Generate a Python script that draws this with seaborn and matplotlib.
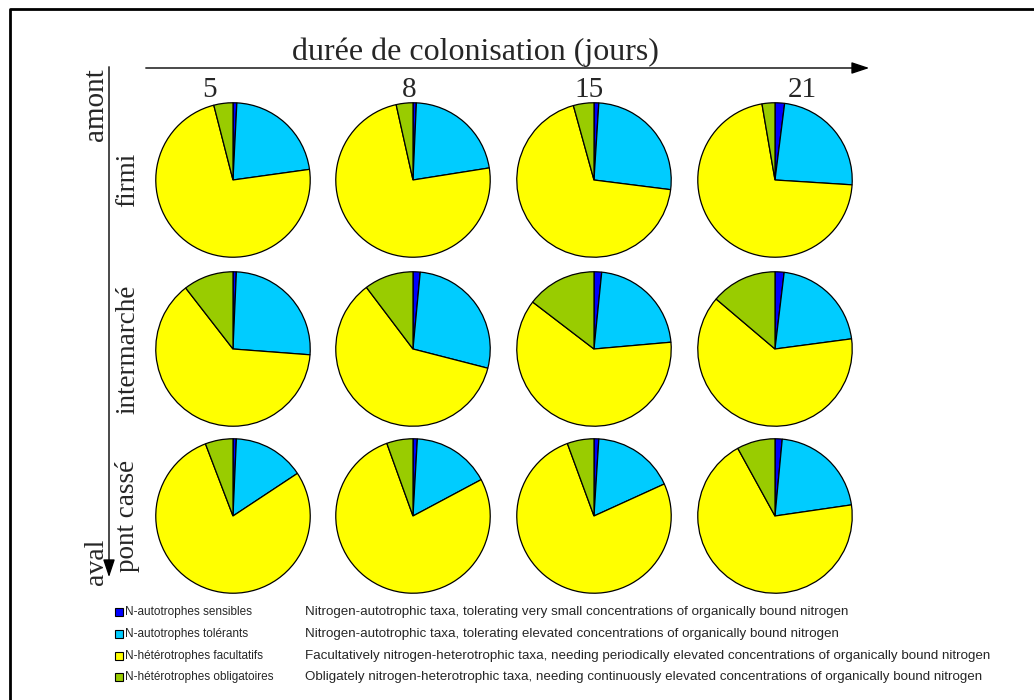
import matplotlib
matplotlib.use("Agg")
import matplotlib.pyplot as plt
from matplotlib.patches import Rectangle
import seaborn as sns

# === Data ===
sites = ["firmi", "intermarché", "pont cassé"]
days = ["5", "8", "15", "21"]
groups = ["N-autotrophes sensibles", "N-autotrophes tolérants",
          "N-hétérotrophes facultatifs", "N-hétérotrophes obligatoires"]
descriptions = [
    "Nitrogen-autotrophic taxa, tolerating very small concentrations of organically bound nitrogen",
    "Nitrogen-autotrophic taxa, tolerating elevated concentrations of organically bound nitrogen",
    "Facultatively nitrogen-heterotrophic taxa, needing periodically elevated concentrations of organically bound nitrogen",
    "Obligately nitrogen-heterotrophic taxa, needing continuously elevated concentrations of organically bound nitrogen",
]
colors = ["#0000FF", "#00CCFF", "#FFFF00", "#99CC00"]

# percentages per site (rows) and day (columns): sensibles, tolérants, facultatifs, obligatoires
firmi = [[0.8, 22.0, 73.2, 4.0], [0.7, 21.8, 74.0, 3.5], [1.0, 26.0, 68.7, 4.3], [2.0, 24.0, 71.3, 2.7]]
intermarche = [[0.7, 25.5, 63.3, 10.5], [1.5, 27.5, 60.7, 10.3], [1.6, 22.0, 61.8, 14.6], [1.9, 21.0, 63.3, 13.8]]
pont_casse = [[0.7, 15.0, 78.5, 5.8], [0.9, 16.3, 77.3, 5.5], [1.0, 17.2, 76.2, 5.6], [1.5, 21.2, 69.3, 8.0]]
data = [firmi, intermarche, pont_casse]

sns.set_theme(style="white")
plt.rcParams["font.family"] = ["Liberation Serif", "DejaVu Serif"]

W, H = 1034, 700
fig = plt.figure(figsize=(W / 100, H / 100), dpi=100)

# overlay axes in pixel coordinates for annotations
bg = fig.add_axes([0, 0, 1, 1])
bg.set_xlim(0, W)
bg.set_ylim(H, 0)
bg.axis("off")

# frame
bg.plot([9.5, 9.5, W], [H, 8.5, 8.5], color="black", lw=2)

# === Pies ===
col_x = [233, 413, 594, 775]
row_y = [180, 349, 516]
r = 78
for i, site_vals in enumerate(data):
    for j, vals in enumerate(site_vals):
        cx, cy = col_x[j], row_y[i]
        ax = fig.add_axes([(cx - r) / W, 1 - (cy + r) / H, 2 * r / W, 2 * r / H])
        ax.pie(vals, colors=colors, startangle=90, counterclock=False,
               wedgeprops=dict(edgecolor="black", linewidth=0.9))
        ax.set_xlim(-1.01, 1.01)
        ax.set_ylim(-1.01, 1.01)
        ax.set_aspect("equal")

# === Axes annotations ===
bg.annotate("", xy=(872, 68), xytext=(143, 68),
            arrowprops=dict(arrowstyle="-|>,head_length=0.9,head_width=0.3", color="black", lw=1))
bg.text(475, 60, "durée de colonisation (jours)", ha="center", va="baseline", fontsize=23)
day_x = [209, 409, 589, 802]
for x, d in zip(day_x, days):
    bg.text(x, 97, d, ha="center", va="baseline", fontsize=21)

bg.annotate("", xy=(109, 580), xytext=(109, 64),
            arrowprops=dict(arrowstyle="-|>,head_length=0.9,head_width=0.3", color="black", lw=1))
bg.text(96, 105, "amont", rotation=90, ha="center", va="center", fontsize=21)
bg.text(96, 562, "aval", rotation=90, ha="center", va="center", fontsize=20)
for y, s in zip(row_y, sites):
    bg.text(128, y, s, rotation=90, ha="center", va="center", fontsize=19.5)

# === Legend ===
leg_y = [612, 634, 656, 677]
for y, c, g, d in zip(leg_y, colors, groups, descriptions):
    bg.add_patch(Rectangle((115, y - 4), 8, 8, facecolor=c, edgecolor="black", lw=0.8))
    bg.text(125, y, g, ha="left", va="center", fontsize=8.5,
            family=["Liberation Sans", "DejaVu Sans"])
    bg.text(305, y, d, ha="left", va="center", fontsize=9.6,
            family=["Liberation Sans Narrow", "Liberation Sans", "DejaVu Sans"])

fig.savefig("out.png", dpi=100)
